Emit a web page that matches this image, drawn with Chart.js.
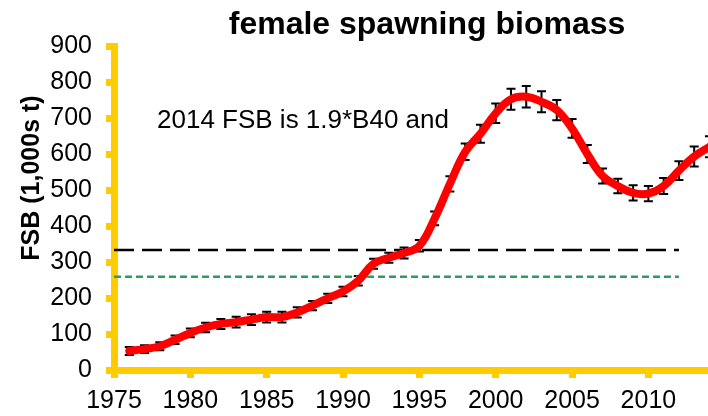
<!DOCTYPE html>
<html>
<head>
<meta charset="utf-8">
<title>female spawning biomass</title>
<script src="https://cdn.jsdelivr.net/npm/chart.js@4/dist/chart.umd.min.js"></script>
<style>
  html, body { margin: 0; padding: 0; background: #fff; overflow: hidden; }
  #wrap { width: 760px; height: 416px; }
</style>
</head>
<body>
<div id="wrap"><canvas id="fsbChart" width="760" height="416"></canvas></div>
<script>
// ===== データ =====
const years = [
  1976, 1977, 1978, 1979, 1980, 1981, 1982, 1983, 1984, 1985,
  1986, 1987, 1988, 1989, 1990, 1991, 1992, 1993, 1994, 1995,
  1996, 1997, 1998, 1999, 2000, 2001, 2002, 2003, 2004, 2005,
  2006, 2007, 2008, 2009, 2010, 2011, 2012, 2013, 2014
];
const fsb = [
  53, 58, 66, 84, 103, 118, 128, 133, 140, 147,
  147, 160, 179, 199, 218, 248, 295, 312, 325, 345,
  421, 517, 606, 656, 713, 752, 759, 745, 722, 671,
  600, 539, 511, 492, 490, 511, 554, 593, 620
];
const fsbErr = [
  11, 11, 11, 12, 12, 13, 14, 15, 15, 15,
  15, 14, 13, 13, 13, 13, 14, 14, 15, 16,
  19, 21, 23, 25, 27, 29, 30, 29, 28, 26,
  25, 21, 20, 21, 21, 22, 26, 28, 29
];
const refYears = [1975, 2012];
const b40 = 333;
const b35 = 259;
const xTicks = [1975, 1980, 1985, 1990, 1995, 2000, 2005, 2010];
const yTicks = [0, 100, 200, 300, 400, 500, 600, 700, 800, 900];

const titleText = "female spawning biomass";
const yTitleText = "FSB (1,000s t)";
const noteText = "2014 FSB is 1.9*B40 and";

const FONT = "'Liberation Sans', Arial, sans-serif";
const AXIS_YELLOW = "#FFCC00";

// ===== エラーバーと文字 =====
const extras = {
  id: "extras",
  beforeDatasetsDraw(chart) {
    const ctx = chart.ctx;
    const xs = chart.scales.x;
    const ys = chart.scales.y;
    ctx.save();
    ctx.strokeStyle = "#000";
    ctx.lineWidth = 2;
    years.forEach((yr, i) => {
      const x = xs.getPixelForValue(yr);
      const top = ys.getPixelForValue(fsb[i] + fsbErr[i]);
      const bot = ys.getPixelForValue(fsb[i] - fsbErr[i]);
      ctx.beginPath();
      ctx.moveTo(x, top); ctx.lineTo(x, bot);
      ctx.moveTo(x - 4.5, top); ctx.lineTo(x + 4.5, top);
      ctx.moveTo(x - 4.5, bot); ctx.lineTo(x + 4.5, bot);
      ctx.stroke();
    });
    ctx.restore();
  },
  afterDraw(chart) {
    const ctx = chart.ctx;
    const area = chart.chartArea;
    ctx.save();
    ctx.fillStyle = "#000";
    ctx.font = "26px " + FONT;
    ctx.textBaseline = "alphabetic";
    ctx.textAlign = "left";
    ctx.fillText(noteText, area.left + 43, area.top + 82);

    ctx.translate(area.left - 82, area.top + 132);
    ctx.rotate(-Math.PI / 2);
    ctx.font = "bold 25px " + FONT;
    ctx.textAlign = "center";
    ctx.textBaseline = "middle";
    ctx.fillText(yTitleText, 0, 0);
    ctx.restore();
  }
};

// ===== グラフ =====
const ctx = document.getElementById("fsbChart").getContext("2d");

new Chart(ctx, {
  type: "line",
  data: {
    datasets: [
      {
        label: "FSB",
        data: years.map((yr, i) => ({ x: yr, y: fsb[i] })),
        borderColor: "#FF0000",
        borderWidth: 8,
        borderCapStyle: "round",
        borderJoinStyle: "round",
        tension: 0.4,
        pointRadius: 0,
        fill: false
      },
      {
        label: "B40",
        data: refYears.map(yr => ({ x: yr, y: b40 })),
        borderColor: "#000",
        borderWidth: 2.5,
        borderDash: [20, 8],
        pointRadius: 0,
        fill: false
      },
      {
        label: "B35",
        data: refYears.map(yr => ({ x: yr, y: b35 })),
        borderColor: "#2E9B63",
        borderWidth: 2.5,
        borderDash: [7, 4],
        pointRadius: 0,
        fill: false
      }
    ]
  },
  options: {
    responsive: false,
    animation: false,
    devicePixelRatio: 1,
    layout: { padding: { left: 0, right: 20, top: 0, bottom: 0 } },
    plugins: {
      legend: { display: false },
      tooltip: { enabled: false },
      title: {
        display: true,
        text: titleText,
        fullSize: false,
        color: "#000",
        font: { family: FONT, size: 32, weight: "bold", lineHeight: 1.2 },
        padding: { top: 6, bottom: 1.6 }
      }
    },
    scales: {
      x: {
        type: "linear",
        min: 1975,
        max: 2016,
        afterBuildTicks: s => { s.ticks = xTicks.map(v => ({ value: v })); },
        afterFit: s => { s.height = 46; },
        ticks: {
          color: "#000",
          font: { family: FONT, size: 25 },
          padding: 8,
          maxRotation: 0,
          autoSkip: false,
          callback: v => String(v)
        },
        grid: {
          drawOnChartArea: false,
          drawTicks: true,
          tickLength: 8,
          tickWidth: 7,
          tickColor: AXIS_YELLOW
        },
        border: { color: AXIS_YELLOW, width: 7 }
      },
      y: {
        min: 0,
        max: 900,
        afterBuildTicks: s => { s.ticks = yTicks.map(v => ({ value: v })); },
        afterFit: s => { s.width = 114; },
        ticks: {
          color: "#000",
          font: { family: FONT, size: 25 },
          padding: 14,
          callback: v => String(v)
        },
        grid: {
          drawOnChartArea: false,
          drawTicks: true,
          tickLength: 8,
          tickWidth: 7,
          tickColor: AXIS_YELLOW
        },
        border: { color: AXIS_YELLOW, width: 7 }
      }
    }
  },
  plugins: [extras]
});
</script>
</body>
</html>
